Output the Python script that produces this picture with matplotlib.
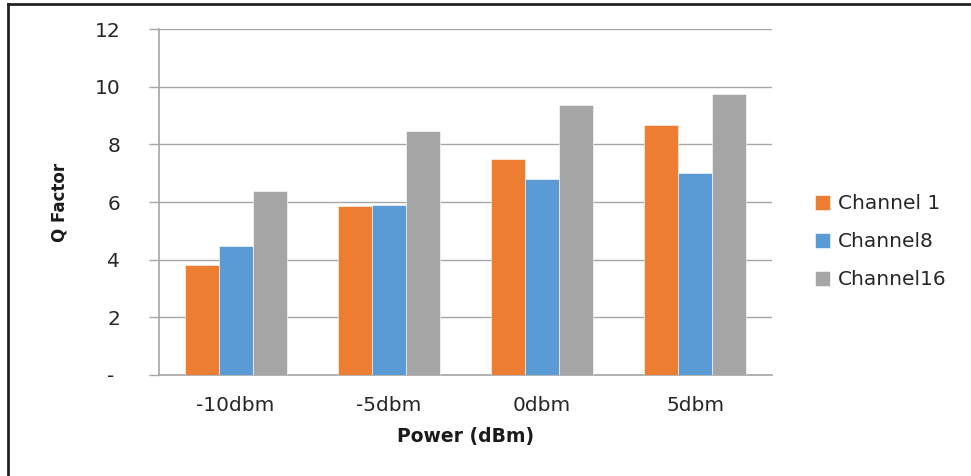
import numpy as np
import matplotlib
matplotlib.use("Agg")
import matplotlib.pyplot as plt
from matplotlib.lines import Line2D

# ---------------------------- data ----------------------------
categories = ['-10dbm', '-5dbm', '0dbm', '5dbm']
channel_1 = [3.82, 5.85, 7.48, 8.66]
channel_8 = [4.46, 5.90, 6.80, 6.99]
channel_16 = [6.39, 8.47, 9.35, 9.76]
series_names = ['Channel 1', 'Channel8', 'Channel16']
colors = ['#ED7D31', '#5B9BD5', '#A5A5A5']

plt.rcParams['font.family'] = ['DejaVu Sans']
fs = 14.5

fig = plt.figure(figsize=(9.71, 4.76), dpi=100)
ax = fig.add_axes([0.1638, 0.2122, 0.6312, 0.7268])

x = np.arange(len(categories))
w = 0.222
for i, vals in enumerate([channel_1, channel_8, channel_16]):
    ax.bar(x + (i - 1) * w, vals, width=w, color=colors[i],
           edgecolor='white', linewidth=0.4, label=series_names[i], zorder=3)

ax.set_xlim(-0.5, len(categories) - 0.5)
ax.set_ylim(0, 12)
ax.set_yticks([0, 2, 4, 6, 8, 10, 12])
ax.set_yticklabels(['- ', '2', '4', '6', '8', '10', '12'])
ax.set_xticks(x)
ax.set_xticklabels(categories)

ax.grid(axis='y', color='#A6A6A6', linewidth=1.0, zorder=0)
for s in ['top', 'right']:
    ax.spines[s].set_visible(False)
ax.spines['left'].set_color('#A6A6A6')
ax.spines['bottom'].set_color('#A6A6A6')
ax.spines['left'].set_linewidth(1.2)
ax.spines['bottom'].set_linewidth(1.2)
ax.tick_params(axis='y', length=7, color='#A6A6A6', width=1.0, pad=21,
               labelsize=fs, labelcolor='#262626')
ax.tick_params(axis='x', length=0, pad=15, labelsize=fs, labelcolor='#262626')

ax.set_xlabel('Power (dBm)', fontsize=13.5, fontweight='bold', labelpad=9, color='#1a1a1a')
ax.set_ylabel('Q Factor', fontsize=12, fontweight='bold', labelpad=19, color='#1a1a1a')

leg = ax.legend(loc='center left', bbox_to_anchor=(1.04, 0.385), frameon=False,
                fontsize=fs, handlelength=0.75, handleheight=0.75,
                handletextpad=0.4, labelspacing=0.95)
for t in leg.get_texts():
    t.set_color('#262626')

# figure border (top and left edges visible)
fig.add_artist(Line2D([8 / 971, 1.0], [1 - 4 / 476, 1 - 4 / 476],
                      transform=fig.transFigure, color='#222222', linewidth=2))
fig.add_artist(Line2D([8 / 971, 8 / 971], [0, 1 - 4 / 476],
                      transform=fig.transFigure, color='#222222', linewidth=2))

fig.savefig('out.png', dpi=100)
